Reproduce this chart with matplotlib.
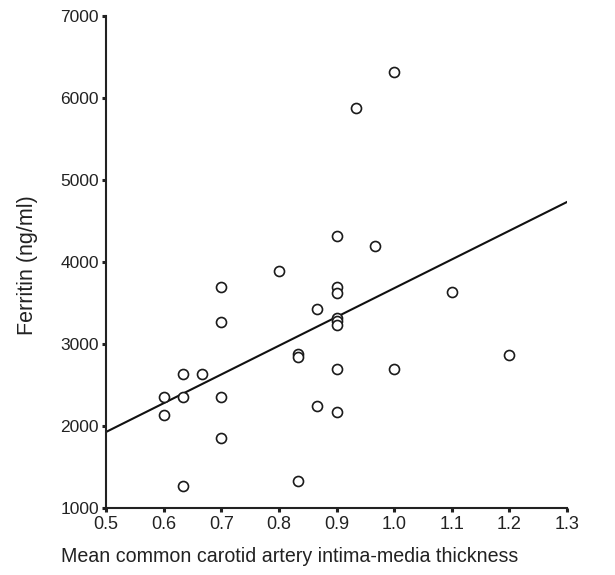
import numpy as np
import matplotlib
matplotlib.use("Agg")
import matplotlib.pyplot as plt

plt.rcParams['font.family'] = ['Liberation Sans', 'DejaVu Sans']

# mean common carotid IMT (mm) vs ferritin (ng/ml)
imt = [0.60, 0.60, 0.633, 0.633, 0.633, 0.667, 0.70, 0.70, 0.70, 0.70,
       0.80, 0.833, 0.833, 0.833, 0.867, 0.867, 0.90, 0.90, 0.90, 0.90,
       0.90, 0.90, 0.90, 0.90, 0.933, 0.967, 1.00, 1.00, 1.10, 1.20]
ferritin = [2354, 2134, 2634, 2354, 1268, 2634, 3695, 3268, 2354, 1854,
            3890, 2878, 2841, 1329, 3427, 2244, 4317, 3695, 3622, 3317,
            3280, 3232, 2695, 2171, 5878, 4195, 6317, 2695, 3634, 2866]

# regression line end points as drawn
fit_x = [0.5, 1.3]
fit_y = [1927, 4732]

xticks = [0.5, 0.6, 0.7, 0.8, 0.9, 1.0, 1.1, 1.2, 1.3]
yticks = [1000, 2000, 3000, 4000, 5000, 6000, 7000]

fig = plt.figure(figsize=(6.15, 5.75), dpi=100)
ax = fig.add_axes([106/615, 1 - 508/575, (567-106)/615, (508-16)/575])

ax.plot(imt, ferritin, 'o', mfc='white', mec='#1a1a1a', ms=7.2, mew=1.2,
        clip_on=False, zorder=3)
ax.plot(fit_x, fit_y, '-', color='#111111', lw=1.5, zorder=2)

ax.set_xlim(0.5, 1.3)
ax.set_ylim(1000, 7000)
ax.set_xticks(xticks)
ax.set_xticklabels([f"{v:.1f}" for v in xticks])
ax.set_yticks(yticks)

for s in ['top', 'right']:
    ax.spines[s].set_visible(False)
for s in ['left', 'bottom']:
    ax.spines[s].set_linewidth(1.5)
    ax.spines[s].set_color('#222222')

ax.tick_params(direction='out', length=3, width=2.2, colors='#222222',
               labelcolor='#222222')
ax.tick_params(axis='x', labelsize=13, pad=3)
ax.tick_params(axis='y', labelsize=12.5, pad=2)

fig.text(290/615, 1 - 557/575, "Mean common carotid artery intima-media thickness",
         ha='center', va='center', fontsize=14.1, color='#222222')
fig.text(27/615, 1 - 265/575, "Ferritin (ng/ml)", rotation=90,
         ha='center', va='center', fontsize=15.5, color='#222222')

fig.savefig("out.png", dpi=100)
